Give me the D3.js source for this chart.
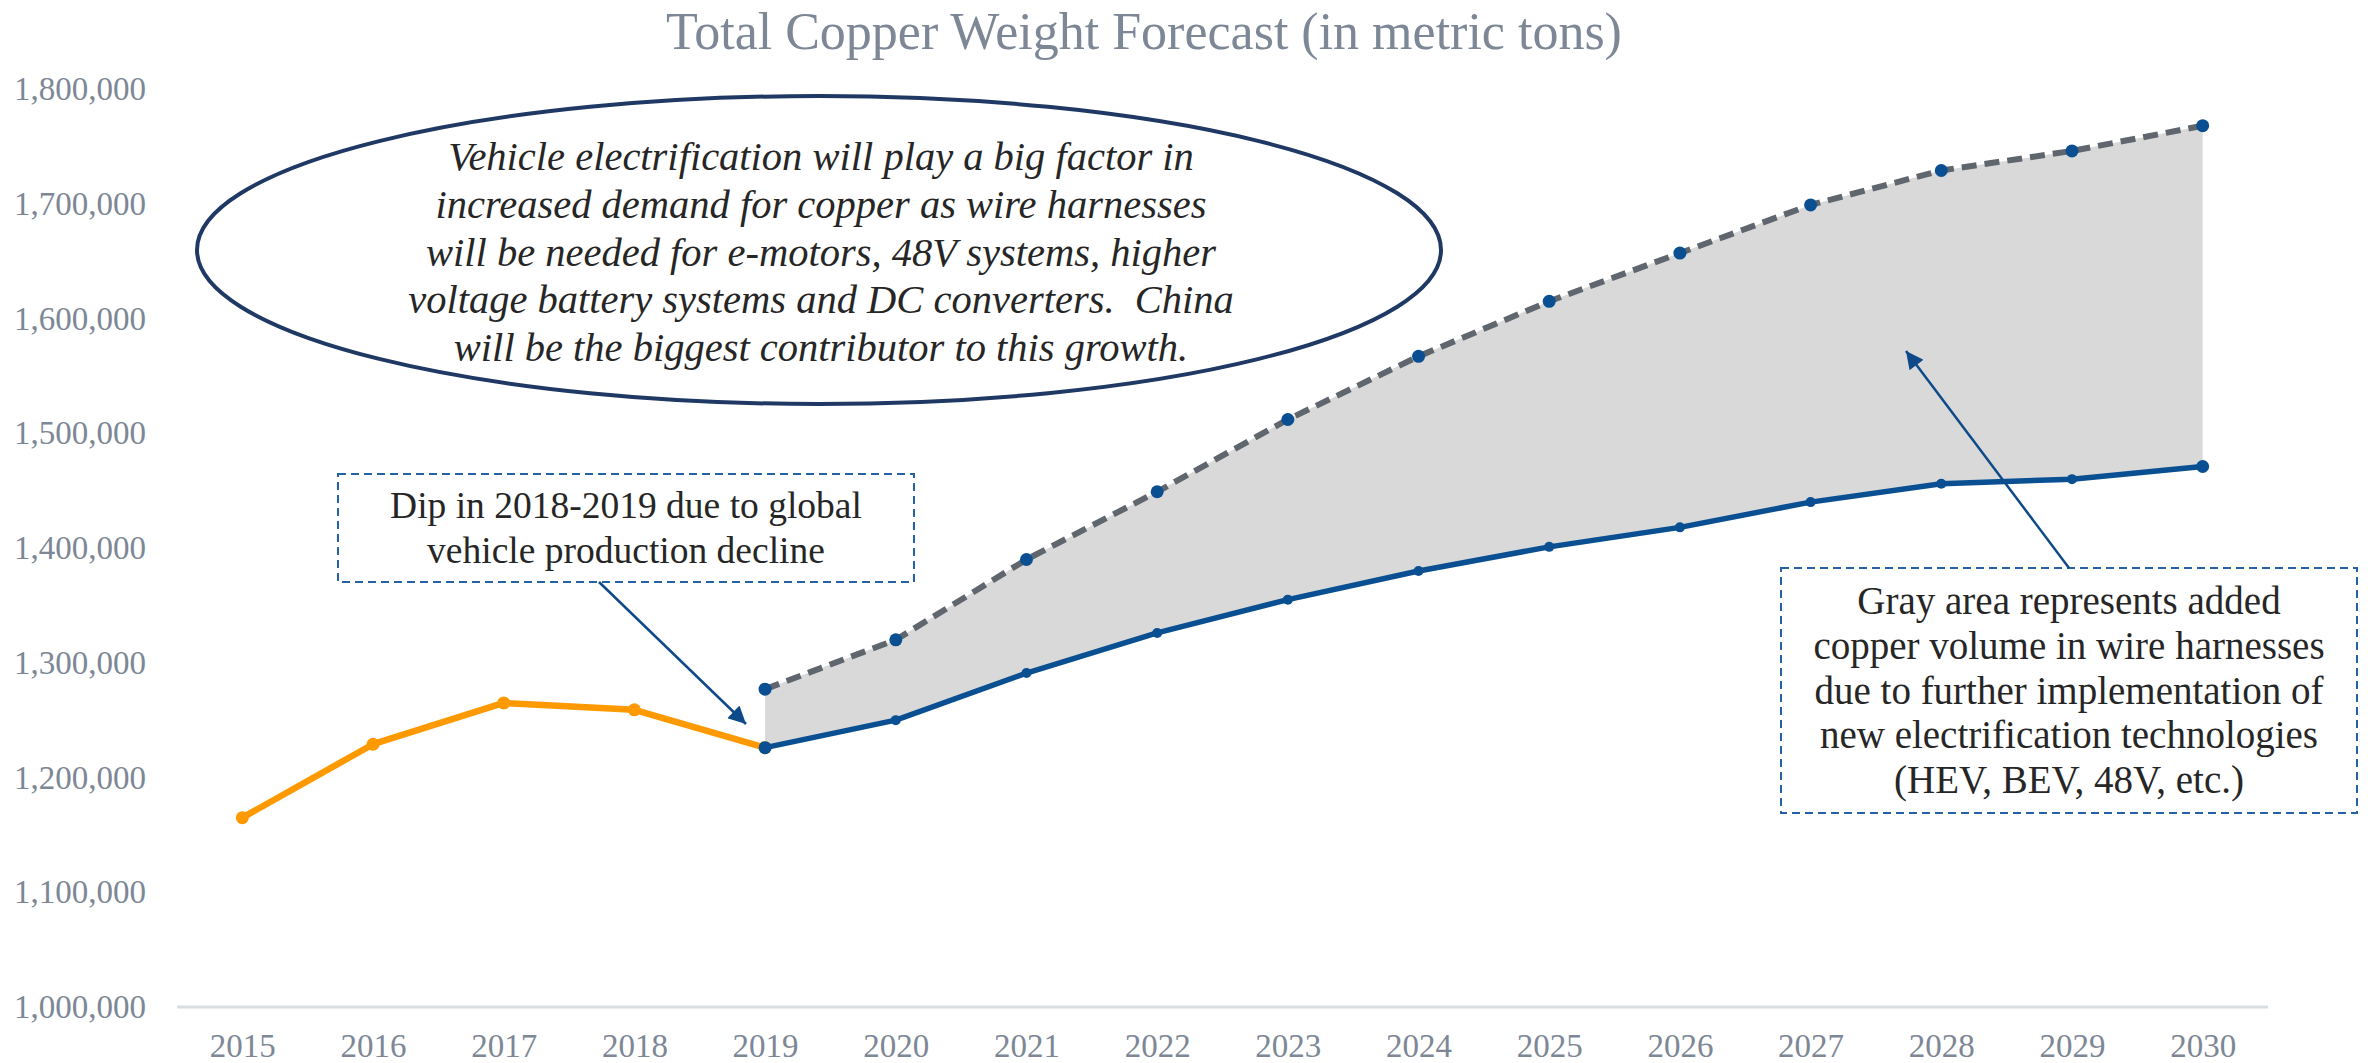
<!DOCTYPE html>
<html>
<head>
<meta charset="utf-8">
<script src="https://cdn.jsdelivr.net/npm/d3@7"></script>
<style>
body { margin: 0; background: #fff; }
svg { display: block; font-family: "Liberation Serif", "DejaVu Serif", serif; }
.tick text { fill: #7d8796; font-size: 33px; font-family: "Liberation Serif", "DejaVu Serif", serif; }
.note { fill: #262626; font-size: 39px; text-anchor: middle; }
.bubble { fill: #262626; font-size: 40.5px; font-style: italic; text-anchor: middle; white-space: pre; }
.box { fill: none; stroke: #2461a5; stroke-width: 2; stroke-dasharray: 8 5; }
.arrow { stroke: #0e4a8a; stroke-width: 2.5; fill: none; }
</style>
</head>
<body>
<div id="chart"></div>
<script>
var years = ["2015","2016","2017","2018","2019","2020","2021","2022","2023","2024","2025","2026","2027","2028","2029","2030"];

// actuals 2015-2019
var histYears = ["2015","2016","2017","2018","2019"];
var histValues = [1165000, 1229000, 1265000, 1259000, 1226000];

// forecast 2019-2030
var fcYears = ["2019","2020","2021","2022","2023","2024","2025","2026","2027","2028","2029","2030"];
var baseValues = [1226000, 1250000, 1291000, 1326000, 1355000, 1380000, 1401000, 1418000, 1440000, 1456000, 1460000, 1471000];
var electValues = [1277000, 1320000, 1390000, 1449000, 1512000, 1567000, 1615000, 1657000, 1699000, 1729000, 1746000, 1768000];

var yTicks = [1000000, 1100000, 1200000, 1300000, 1400000, 1500000, 1600000, 1700000, 1800000];

var title = "Total Copper Weight Forecast (in metric tons)";
var bubbleLines = ["Vehicle electrification will play a big factor in",
  "increased demand for copper as wire harnesses",
  "will be needed for e-motors, 48V systems, higher",
  "voltage battery systems and DC converters.  China",
  "will be the biggest contributor to this growth."];
var dipLines = ["Dip in 2018-2019 due to global", "vehicle production decline"];
var grayLines = ["Gray area represents added",
  "copper volume in wire harnesses",
  "due to further implementation of",
  "new electrification technologies",
  "(HEV, BEV, 48V, etc.)"];

var w = 2368, h = 1063;

var svg = d3.select("#chart").append("svg")
    .attr("width", w)
    .attr("height", h);

var x = d3.scalePoint()
    .domain(years)
    .range([177, 2268])
    .padding(0.5);

var y = d3.scaleLinear()
    .domain([1000000, 1800000])
    .range([1007, 89]);

var defs = svg.append("defs");
defs.append("marker")
    .attr("id", "head")
    .attr("viewBox", "0 0 10 10")
    .attr("refX", 10).attr("refY", 5)
    .attr("markerWidth", 9).attr("markerHeight", 7)
    .attr("markerUnits", "strokeWidth")
    .attr("orient", "auto")
  .append("path")
    .attr("d", "M0,0L10,5L0,10Z")
    .attr("fill", "#0e4a8a");

// title
svg.append("text")
    .attr("x", 1144)
    .attr("y", 49)
    .attr("text-anchor", "middle")
    .style("font-size", "52px")
    .style("fill", "#7d8796")
    .text(title);

// axes
svg.append("g")
    .attr("transform", "translate(177,0)")
    .call(d3.axisLeft(y).tickValues(yTicks).tickFormat(d3.format(",")).tickSize(0).tickPadding(31))
    .call(function(g) { g.select(".domain").remove(); });

svg.append("line")
    .attr("x1", x.range()[0]).attr("x2", x.range()[1])
    .attr("y1", y(1000000)).attr("y2", y(1000000))
    .attr("stroke", "#d9dde2")
    .attr("stroke-width", 3);

svg.append("g")
    .attr("transform", "translate(0," + y(1000000) + ")")
    .call(d3.axisBottom(x).tickSize(0).tickPadding(27))
    .call(function(g) { g.select(".domain").remove(); });

// gray band between baseline and electrified forecast
var fc = fcYears.map(function(d, i) { return {year: d, base: baseValues[i], elect: electValues[i]}; });
var hist = histYears.map(function(d, i) { return {year: d, v: histValues[i]}; });

svg.append("path")
    .datum(fc)
    .attr("fill", "#d9d9d9")
    .attr("d", d3.area()
      .x(function(d) { return x(d.year); })
      .y0(function(d) { return y(d.base); })
      .y1(function(d) { return y(d.elect); }));

// historical line
svg.append("path")
    .datum(hist)
    .attr("fill", "none")
    .attr("stroke", "#ff9900")
    .attr("stroke-width", 6.5)
    .attr("stroke-linejoin", "round")
    .attr("d", d3.line().x(function(d) { return x(d.year); }).y(function(d) { return y(d.v); }));

svg.selectAll("circle.hist")
    .data(hist)
  .enter().append("circle")
    .attr("class", "hist")
    .attr("cx", function(d) { return x(d.year); })
    .attr("cy", function(d) { return y(d.v); })
    .attr("r", 6.5)
    .attr("fill", "#ff9900");

// baseline forecast
svg.append("path")
    .datum(fc)
    .attr("fill", "none")
    .attr("stroke", "#0a4f91")
    .attr("stroke-width", 5.5)
    .attr("stroke-linejoin", "round")
    .attr("d", d3.line().x(function(d) { return x(d.year); }).y(function(d) { return y(d.base); }));

// electrified forecast
svg.append("path")
    .datum(fc)
    .attr("fill", "none")
    .attr("stroke", "#60666e")
    .attr("stroke-width", 6)
    .attr("stroke-dasharray", "15 8")
    .attr("d", d3.line().x(function(d) { return x(d.year); }).y(function(d) { return y(d.elect); }));

svg.selectAll("circle.base")
    .data(fc)
  .enter().append("circle")
    .attr("class", "base")
    .attr("cx", function(d) { return x(d.year); })
    .attr("cy", function(d) { return y(d.base); })
    .attr("r", function(d, i) { return i === 0 || i === fc.length - 1 ? 6.5 : 5; })
    .attr("fill", "#0a4f91");

svg.selectAll("circle.elect")
    .data(fc)
  .enter().append("circle")
    .attr("class", "elect")
    .attr("cx", function(d) { return x(d.year); })
    .attr("cy", function(d) { return y(d.elect); })
    .attr("r", 6.5)
    .attr("fill", "#0a4f91");

// ellipse callout
svg.append("ellipse")
    .attr("cx", 819).attr("cy", 250)
    .attr("rx", 622).attr("ry", 154)
    .attr("fill", "none")
    .attr("stroke", "#1f3864")
    .attr("stroke-width", 4);

svg.append("g").selectAll("text")
    .data(bubbleLines)
  .enter().append("text")
    .attr("class", "bubble")
    .attr("x", 821)
    .attr("y", function(d, i) { return 170 + i * 47.8; })
    .text(function(d) { return d; });

// dip note
svg.append("rect").attr("class", "box")
    .attr("x", 338).attr("y", 474).attr("width", 576).attr("height", 108);
svg.append("g").selectAll("text")
    .data(dipLines)
  .enter().append("text")
    .attr("class", "note")
    .style("font-size", "37.5px")
    .attr("x", 626)
    .attr("y", function(d, i) { return 518 + i * 45; })
    .text(function(d) { return d; });
svg.append("line").attr("class", "arrow")
    .attr("x1", 599).attr("y1", 582)
    .attr("x2", 746).attr("y2", 724)
    .attr("marker-end", "url(#head)");

// gray area note
svg.append("rect").attr("class", "box")
    .attr("x", 1781).attr("y", 568).attr("width", 576).attr("height", 245);
svg.append("g").selectAll("text")
    .data(grayLines)
  .enter().append("text")
    .attr("class", "note")
    .attr("x", 2069)
    .attr("y", function(d, i) { return 614 + i * 44.8; })
    .text(function(d) { return d; });
svg.append("line").attr("class", "arrow")
    .attr("x1", 2069).attr("y1", 568)
    .attr("x2", 1906).attr("y2", 351)
    .attr("marker-end", "url(#head)");
</script>
</body>
</html>
